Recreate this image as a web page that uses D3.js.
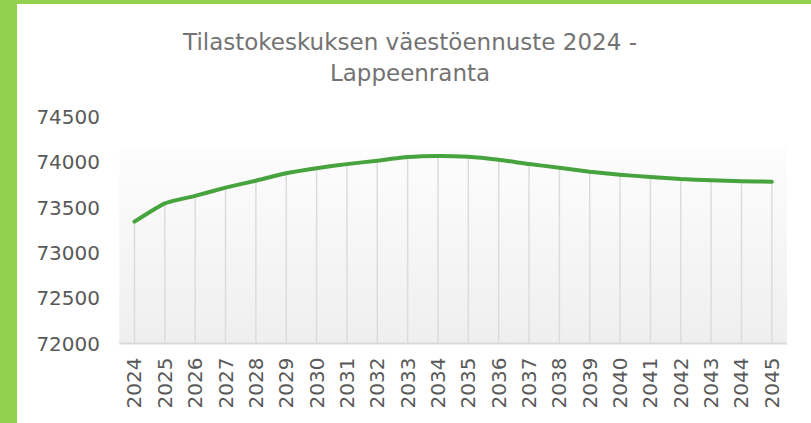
<!DOCTYPE html>
<html>
<head>
<meta charset="utf-8">
<script src="https://cdn.jsdelivr.net/npm/d3@7"></script>
<style>
  body { margin: 0; background: #fff; }
  svg { display: block; }
</style>
</head>
<body>
<div id="chart"></div>
<script>
// Chart data
const years = ['2024', '2025', '2026', '2027', '2028', '2029', '2030', '2031', '2032', '2033', '2034',
    '2035', '2036', '2037', '2038', '2039', '2040', '2041', '2042', '2043', '2044', '2045'];
const population = [73345, 73547, 73630, 73720, 73797, 73879, 73935, 73980, 74018, 74058, 74070,
    74060, 74027, 73981, 73940, 73896, 73863, 73838, 73815, 73801, 73790, 73786];
const y_ticks = [72000, 72500, 73000, 73500, 74000, 74500];
const title_lines = ['Tilastokeskuksen väestöennuste 2024 -', 'Lappeenranta'];

const width = 811, height = 423;
const margin = {top: 117, right: 24, bottom: 79.5, left: 119.3};
const label_font = '"DejaVu Sans", sans-serif';

let svg = d3.select('#chart').append('svg')
    .attr('width', width)
    .attr('height', height);

// Green frame on the left and top
svg.append('rect').attr('x', 0).attr('y', 0).attr('width', width).attr('height', 4).attr('fill', '#92d050');
svg.append('rect').attr('x', 0).attr('y', 0).attr('width', 17).attr('height', height).attr('fill', '#92d050');

// Scales
let x_scale = d3.scaleBand()
    .domain(years)
    .range([margin.left, width - margin.right]);

let y_scale = d3.scaleLinear()
    .domain([72000, 74500])
    .range([height - margin.bottom, margin.top]);

// Plot area gradient
let defs = svg.append('defs');
let grad = defs.append('linearGradient')
    .attr('id', 'plot-grad')
    .attr('x1', 0).attr('y1', 0).attr('x2', 0).attr('y2', 1);
grad.append('stop').attr('offset', '0%').attr('stop-color', '#fdfdfd');
grad.append('stop').attr('offset', '100%').attr('stop-color', '#efefef');

svg.append('rect')
    .attr('x', margin.left)
    .attr('y', y_scale(74170))
    .attr('width', x_scale.range()[1] - margin.left)
    .attr('height', y_scale(72000) - y_scale(74170))
    .attr('fill', 'url(#plot-grad)');

// Title
svg.append('g')
    .selectAll('text')
    .data(title_lines)
    .join('text')
    .attr('x', 410)
    .attr('y', (d, i) => 42 + i * 31)
    .attr('text-anchor', 'middle')
    .attr('dominant-baseline', 'central')
    .attr('font-family', label_font)
    .attr('font-size', 23)
    .attr('fill', '#737373')
    .text(d => d);

// Drop lines from each point to the axis
const cx = d => x_scale(d) + x_scale.bandwidth() / 2;
svg.append('g')
    .selectAll('line')
    .data(years)
    .join('line')
    .attr('x1', d => cx(d))
    .attr('x2', d => cx(d))
    .attr('y1', (d, i) => y_scale(population[i]))
    .attr('y2', y_scale(72000))
    .attr('stroke', '#dcdcdc')
    .attr('stroke-width', 1.5);

// X axis line
svg.append('line')
    .attr('x1', margin.left)
    .attr('x2', x_scale.range()[1])
    .attr('y1', y_scale(72000))
    .attr('y2', y_scale(72000))
    .attr('stroke', '#d9d9d9')
    .attr('stroke-width', 2);

// Y axis labels
svg.append('g')
    .selectAll('text')
    .data(y_ticks)
    .join('text')
    .attr('x', 100)
    .attr('y', d => y_scale(d))
    .attr('text-anchor', 'end')
    .attr('dominant-baseline', 'central')
    .attr('font-family', label_font)
    .attr('font-size', 20)
    .attr('fill', '#595959')
    .text(d => d);

// X axis labels (rotated)
svg.append('g')
    .selectAll('text')
    .data(years)
    .join('text')
    .attr('transform', d => 'translate(' + cx(d) + ',' + (y_scale(72000) + 14) + ') rotate(-90)')
    .attr('text-anchor', 'end')
    .attr('dominant-baseline', 'central')
    .attr('font-family', label_font)
    .attr('font-size', 20)
    .attr('fill', '#595959')
    .text(d => d);

// Population line
let line = d3.line()
    .x((d, i) => cx(years[i]))
    .y(d => y_scale(d))
    .curve(d3.curveCardinal.tension(0.5));

svg.append('path')
    .datum(population)
    .attr('d', line)
    .attr('fill', 'none')
    .attr('stroke', '#46a33d')
    .attr('stroke-width', 4)
    .attr('stroke-linecap', 'round');
</script>
</body>
</html>
